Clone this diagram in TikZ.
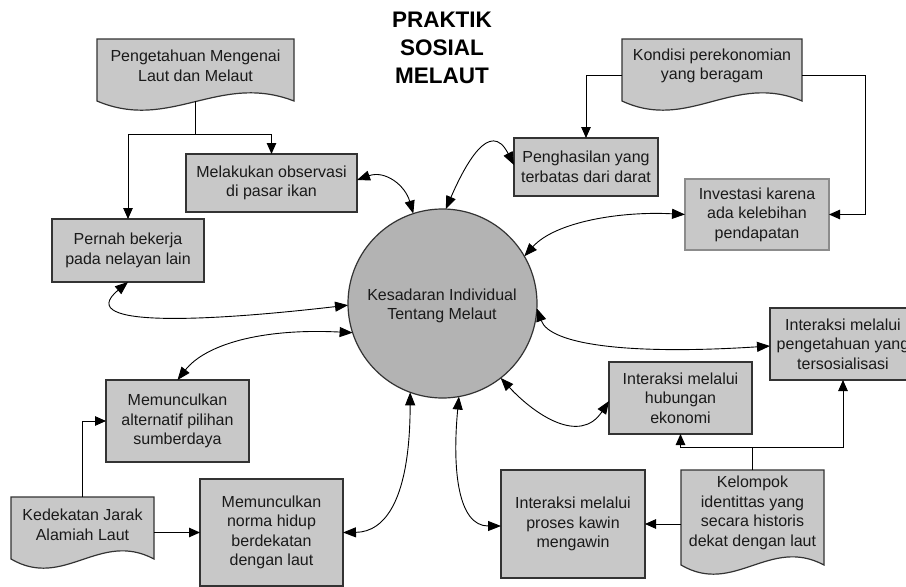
\documentclass[tikz,border=0pt]{standalone}
\usepackage{fontspec}
\setmainfont{Liberation Sans}
\usetikzlibrary{arrows.meta}
\definecolor{boxfill}{HTML}{C8C8C8}
\definecolor{circfill}{HTML}{B3B3B3}
\definecolor{edge}{HTML}{333333}
\definecolor{edgelight}{HTML}{8C8C8C}
\definecolor{txt}{HTML}{1A1A1A}
\tikzset{
 boxnode/.style={draw=edge, line width=1.2pt, fill=boxfill, rectangle, inner sep=0pt, outer sep=0pt, align=center, text=txt, font=\fontsize{16}{19.5}\selectfont},
 docfill/.style={draw=edge, line width=1.2pt, fill=boxfill},
 docanchor/.style={rectangle, inner sep=0pt, outer sep=0pt},
 doctext/.style={align=center, text=txt, font=\fontsize{16}{19.5}\selectfont, inner sep=0pt},
 titletext/.style={align=center, text=black, font=\fontsize{22.5}{28}\selectfont\bfseries, inner sep=0pt},
 link/.style={draw=black, line width=0.9pt, -{Triangle[length=11pt,width=9.5pt]}},
 plainline/.style={draw=black, line width=0.9pt},
 bi/.style={draw=black, line width=0.9pt, {Triangle[length=13pt,width=10pt]}-{Triangle[length=13pt,width=10pt]}},
}
\newcommand{\mydocpath}[4]{%
 \path[docfill] (#1,#2) -- (#3,#2) -- (#3,#4) .. controls ({#1+0.62*(#3-#1)},{#4-29}) and ({#1+0.37*(#3-#1)},{#4+31}) .. (#1,#4) -- cycle;}
\begin{document}
\begin{tikzpicture}[x=1pt,y=-1pt]
\useasboundingbox (0,0) rectangle (906,587);
\clip (0,0) rectangle (906,587);
\fill[white] (0,0) rectangle (906,587);

% title
\node[titletext] (title) at (442,48) {PRAKTIK\\SOSIAL\\MELAUT};

% document shapes
\mydocpath{97}{39}{294}{101}
\node[docanchor, minimum width=197pt, minimum height=62pt] (d1) at (195.5,70) {};
\node[doctext] (d1t) at (195.5,66) {Pengetahuan Mengenai\\Laut dan Melaut};

\mydocpath{622}{39}{802}{101}
\node[docanchor, minimum width=180pt, minimum height=62pt] (d4) at (712,70) {};
\node[doctext] (d4t) at (712,66) {Kondisi perekonomian\\yang beragam};

\mydocpath{681}{470}{824}{565}
\node[docanchor, minimum width=143pt, minimum height=95pt] (d10) at (752.5,517.5) {};
\node[doctext] (d10t) at (752.5,513) {Kelompok\\identittas yang\\secara historis\\dekat dengan laut};

\mydocpath{11}{497}{154}{559}
\node[docanchor, minimum width=143pt, minimum height=62pt] (d13) at (82.5,528) {};
\node[doctext] (d13t) at (82.5,525) {Kedekatan Jarak\\Alamiah Laut};

% boxes
\node[boxnode, minimum width=171pt, minimum height=58pt] (b2) at (271.5,183) {Melakukan observasi\\di pasar ikan};
\node[boxnode, minimum width=152pt, minimum height=63pt] (b3) at (128,250.5) {Pernah bekerja\\pada nelayan lain};
\node[boxnode, minimum width=144pt, minimum height=58pt] (b5) at (586,167) {Penghasilan yang\\terbatas dari darat};
\node[boxnode, draw=edgelight, minimum width=144pt, minimum height=71pt] (b6) at (757,214.5) {Investasi karena\\ada kelebihan\\pendapatan};
\node[boxnode, minimum width=146pt, minimum height=72pt] (b8) at (843,344) {Interaksi melalui\\pengetahuan yang\\tersosialisasi};
\node[boxnode, minimum width=143pt, minimum height=72pt] (b9) at (680.5,398) {Interaksi melalui\\hubungan\\ekonomi};
\node[boxnode, minimum width=144pt, minimum height=108pt] (b11) at (573,524) {Interaksi melalui\\proses kawin\\mengawin};
\node[boxnode, minimum width=143pt, minimum height=82pt] (b12) at (177.5,421) {Memunculkan\\alternatif pilihan\\sumberdaya};
\node[boxnode, minimum width=143pt, minimum height=107pt] (b14) at (271.5,532.5) {Memunculkan\\norma hidup\\berdekatan\\dengan laut};

% central circle
\node[circle, draw=edge, line width=1.2pt, fill=circfill, minimum size=189pt, inner sep=0pt, outer sep=0pt] (c) at (442.5,303.5) {};
\node[doctext] (ct) at (442,306) {Kesadaran Individual\\Tentang Melaut};

% orthogonal connectors
\coordinate (j1) at (195.5,134);
\draw[plainline] (d1.south) -- (j1);
\draw[link] (j1) -| (b3.north);
\draw[link] (j1) -| (b2.north);

\draw[link] ([yshift=-5pt]d4.west) -| (b5.north);
\coordinate (k4) at (865,75);
\draw[link] ([yshift=-5pt]d4.east) -- (k4) |- (b6.east);

\coordinate (j10) at (752.5,447);
\draw[plainline] (d10.north) -- (j10);
\draw[link] (j10) -| (b9.south);
\draw[link] (j10) -| (b8.south);
\draw[link] (d10.west |- b11.east) -- (b11.east);

\draw[link] (d13.north) |- (b12.west);
\draw[link] (d13.east |- b14.west) -- (b14.west);

% curved two-way connectors
\draw[bi] ([yshift=3pt]b2.east) .. controls (385,170) and (405,185) .. (c.108);
\draw[bi] (c.88) .. controls (465,165) and (490,118) .. ([yshift=2pt]b5.west);
\draw[bi] (c.30) .. controls (555,222) and (620,211) .. (b6.west);
\draw[bi] (b3.south) .. controls (70,330) and (220,320) .. (c.181);
\draw[bi] (b12.north) .. controls (205,345) and (260,328) .. (c.198);
\draw[bi] (b14.east) .. controls (385,532) and (410,500) .. (c.250);
\draw[bi] (c.280) .. controls (452,470) and (458,526) .. ([yshift=-2pt]b11.west);
\draw[bi] (c.308) .. controls (535,415) and (580,445) .. ([yshift=-3pt]b9.west);
\draw[bi] (c.357) .. controls (550,345) and (630,355) .. ([yshift=-2pt]b8.west);
\end{tikzpicture}
\end{document}
